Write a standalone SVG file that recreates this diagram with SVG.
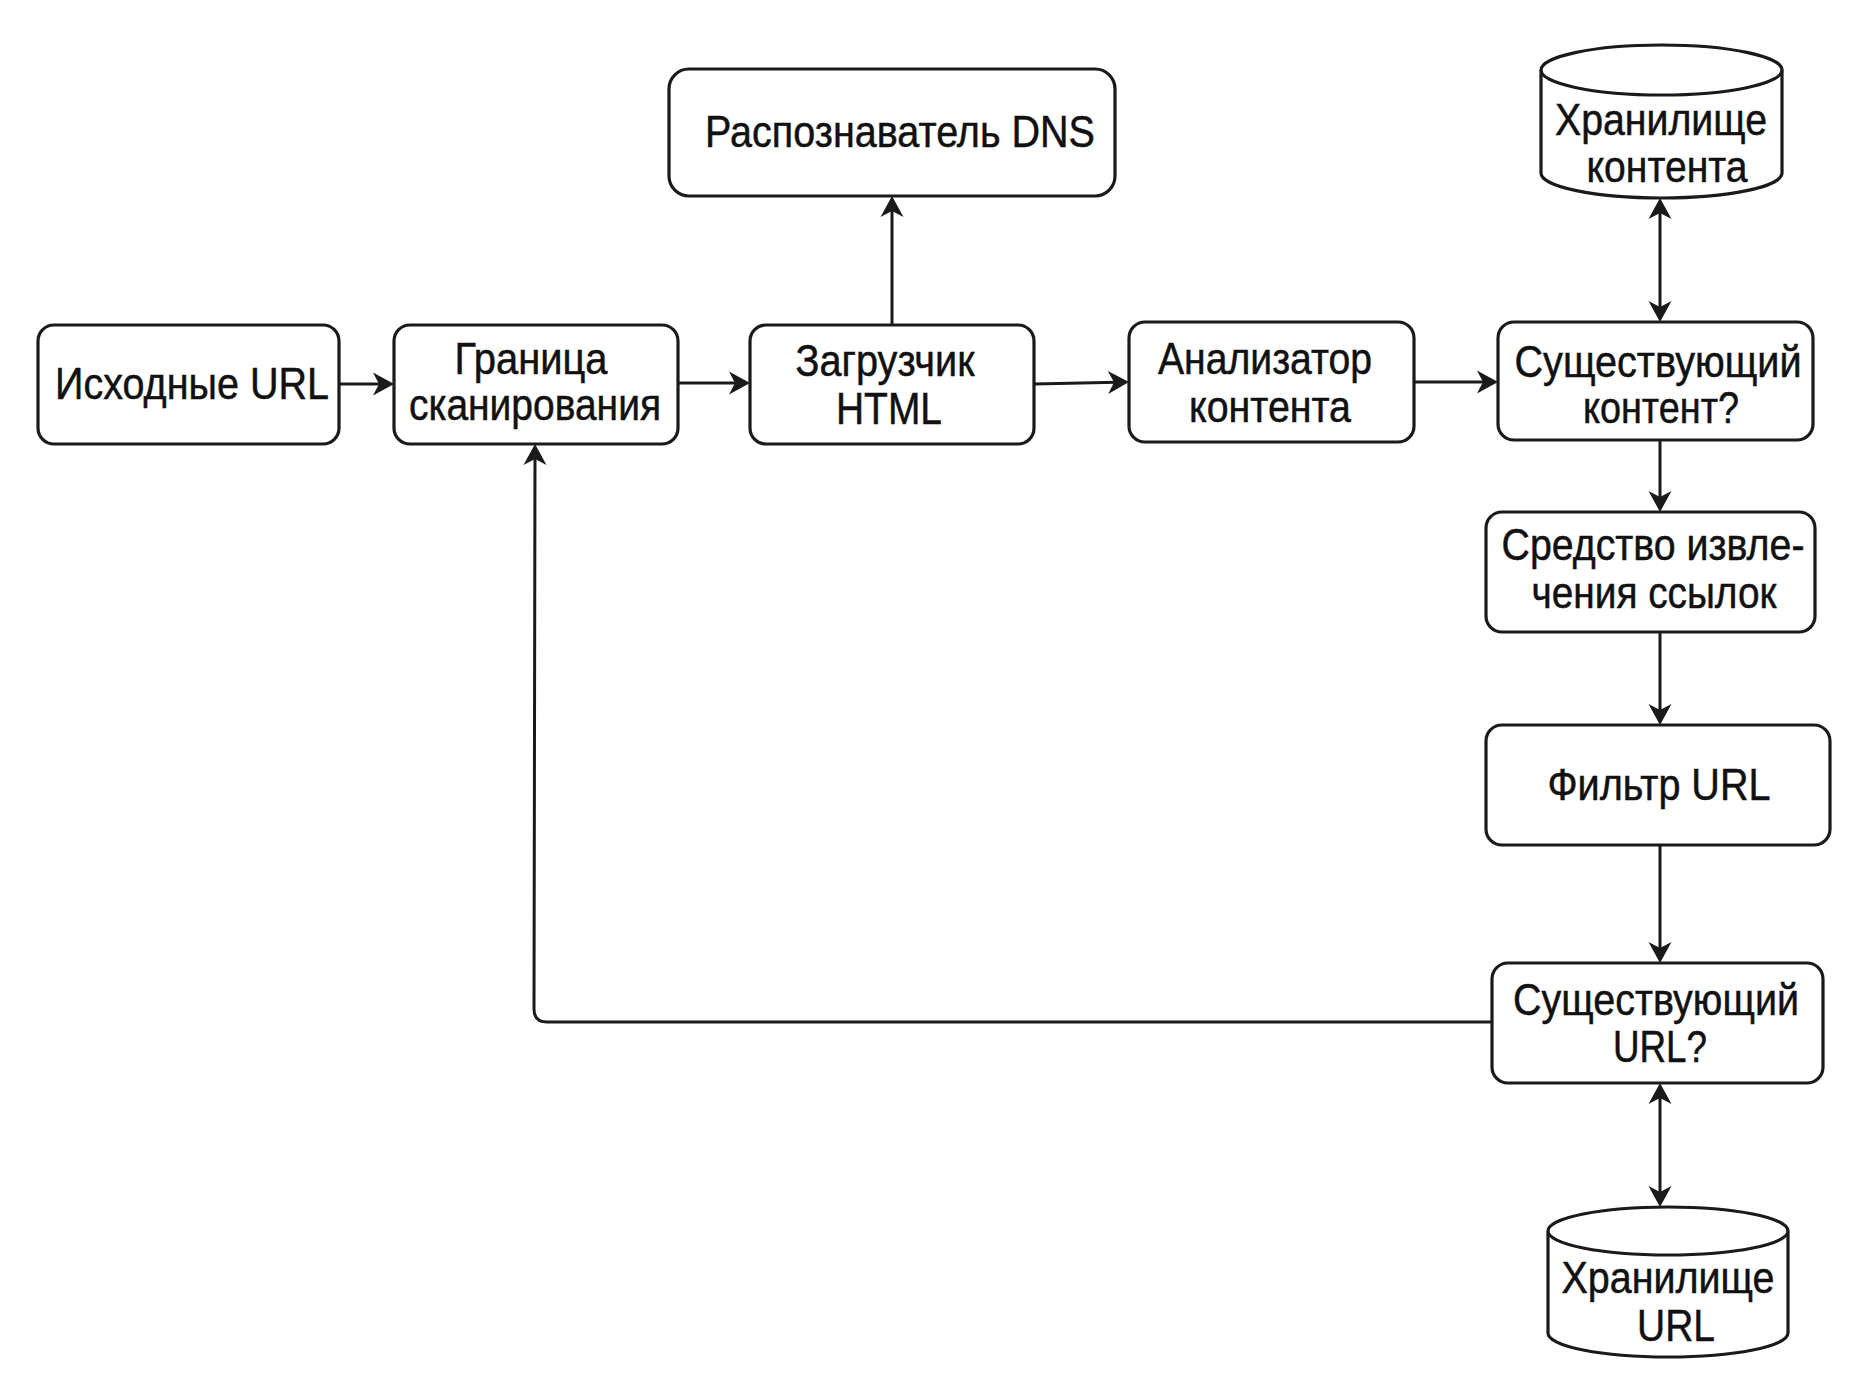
<svg xmlns="http://www.w3.org/2000/svg" width="1866" height="1386" viewBox="0 0 1866 1386">
<style>
.b{fill:#fff;stroke:#1a1a1a;stroke-width:3.2}
.c{fill:none;stroke:#1a1a1a;stroke-width:3}
.t{font-family:"Liberation Sans",Arial,sans-serif;font-size:44px;fill:#111;stroke:#111;stroke-width:0.5;text-anchor:middle}
</style>
<defs>
<marker id="a" viewBox="-22 -12 24 24" refX="-12" refY="0" markerWidth="24" markerHeight="24" markerUnits="userSpaceOnUse" orient="auto-start-reverse">
<path d="M0,0 L-21,-11.5 L-15,0 L-21,11.5 Z" fill="#1a1a1a"/>
</marker>
</defs>
<rect width="1866" height="1386" fill="#fff"/>
<g id="connectors">
<path class="c" d="M339,384 H382" marker-end="url(#a)"/>
<path class="c" d="M678,383 H738" marker-end="url(#a)"/>
<path class="c" d="M1034,384 L1117,382.3" marker-end="url(#a)"/>
<path class="c" d="M1414,382 H1486" marker-end="url(#a)"/>
<path class="c" d="M892,325 V208" marker-end="url(#a)"/>
<path class="c" d="M1660,210 V310" marker-start="url(#a)" marker-end="url(#a)"/>
<path class="c" d="M1660,440 V500" marker-end="url(#a)"/>
<path class="c" d="M1660,632 V713" marker-end="url(#a)"/>
<path class="c" d="M1660,845 V951" marker-end="url(#a)"/>
<path class="c" d="M1660,1095 V1195" marker-start="url(#a)" marker-end="url(#a)"/>
<path class="c" d="M1492,1022 H547 Q534,1022 534,1009 L535,456" marker-end="url(#a)"/>
</g>
<g id="seed">
<rect class="b" x="38" y="325" width="301" height="119" rx="16"/>
<text class="t" x="192" y="399" textLength="274" lengthAdjust="spacingAndGlyphs">Исходные URL</text>
</g>
<g id="frontier">
<rect class="b" x="394" y="325" width="284" height="119" rx="16"/>
<text class="t" x="531" y="374" textLength="153" lengthAdjust="spacingAndGlyphs">Граница</text>
<text class="t" x="535" y="420" textLength="252" lengthAdjust="spacingAndGlyphs">сканирования</text>
</g>
<g id="downloader">
<rect class="b" x="750" y="325" width="284" height="119" rx="16"/>
<text class="t" x="885" y="376" textLength="179" lengthAdjust="spacingAndGlyphs">Загрузчик</text>
<text class="t" x="889" y="424" textLength="106" lengthAdjust="spacingAndGlyphs">HTML</text>
</g>
<g id="parser">
<rect class="b" x="1129" y="322" width="285" height="120" rx="16"/>
<text class="t" x="1265" y="374" textLength="214" lengthAdjust="spacingAndGlyphs">Анализатор</text>
<text class="t" x="1270" y="422" textLength="162" lengthAdjust="spacingAndGlyphs">контента</text>
</g>
<g id="content-seen">
<rect class="b" x="1498" y="322" width="315" height="118" rx="16"/>
<text class="t" x="1658" y="377" textLength="287" lengthAdjust="spacingAndGlyphs">Существующий</text>
<text class="t" x="1661" y="423" textLength="156" lengthAdjust="spacingAndGlyphs">контент?</text>
</g>
<g id="dns">
<rect class="b" x="669" y="69" width="446" height="127" rx="20"/>
<text class="t" x="900" y="147" textLength="390" lengthAdjust="spacingAndGlyphs">Распознаватель DNS</text>
</g>
<g id="content-storage">
<path class="b" d="M1541,70 A120.5,25 0 0 1 1782,70 L1782,173 A120.5,25 0 0 1 1541,173 Z"/>
<path class="c" stroke-width="3.2" d="M1541,70 A120.5,25 0 0 0 1782,70"/>
<text class="t" x="1661" y="135" textLength="212" lengthAdjust="spacingAndGlyphs">Хранилище</text>
<text class="t" x="1667" y="182" textLength="161" lengthAdjust="spacingAndGlyphs">контента</text>
</g>
<g id="link-extractor">
<rect class="b" x="1486" y="512" width="329" height="120" rx="16"/>
<text class="t" x="1653" y="560" textLength="303" lengthAdjust="spacingAndGlyphs">Средство извле-</text>
<text class="t" x="1654" y="608" textLength="245" lengthAdjust="spacingAndGlyphs">чения ссылок</text>
</g>
<g id="url-filter">
<rect class="b" x="1486" y="725" width="344" height="120" rx="16"/>
<text class="t" x="1659" y="800" textLength="223" lengthAdjust="spacingAndGlyphs">Фильтр URL</text>
</g>
<g id="url-seen">
<rect class="b" x="1492" y="963" width="331" height="120" rx="16"/>
<text class="t" x="1656" y="1015" textLength="286" lengthAdjust="spacingAndGlyphs">Существующий</text>
<text class="t" x="1660" y="1062" textLength="94" lengthAdjust="spacingAndGlyphs">URL?</text>
</g>
<g id="url-storage">
<path class="b" d="M1548,1231 A120,24 0 0 1 1788,1231 L1788,1333 A120,24 0 0 1 1548,1333 Z"/>
<path class="c" stroke-width="3.2" d="M1548,1231 A120,24 0 0 0 1788,1231"/>
<text class="t" x="1668" y="1293" textLength="213" lengthAdjust="spacingAndGlyphs">Хранилище</text>
<text class="t" x="1676" y="1341" textLength="78" lengthAdjust="spacingAndGlyphs">URL</text>
</g>
</svg>
